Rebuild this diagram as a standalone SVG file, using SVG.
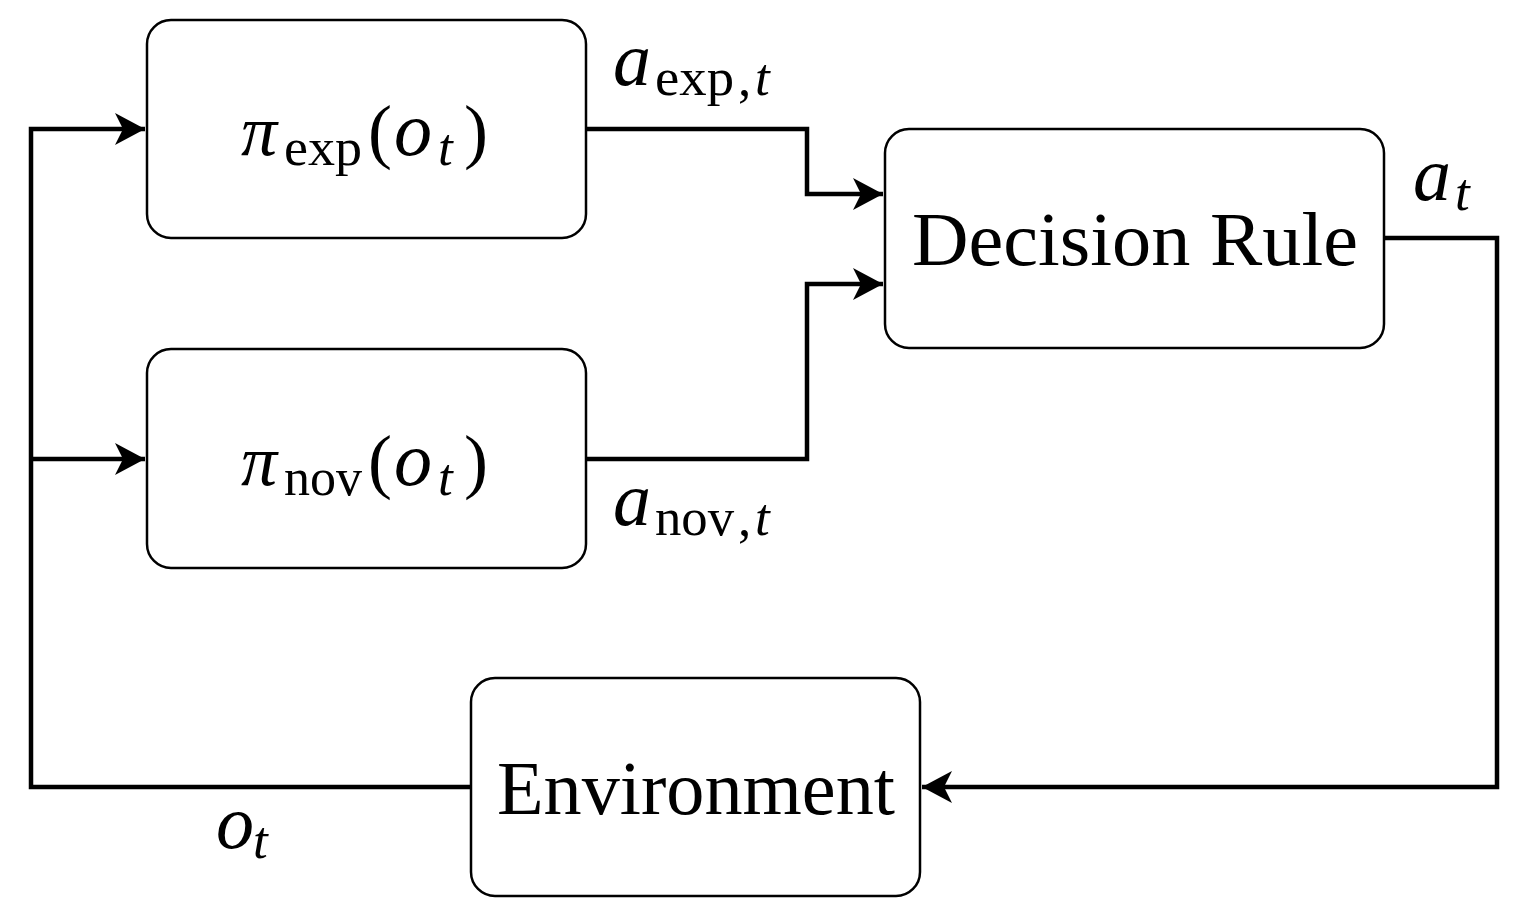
<svg xmlns="http://www.w3.org/2000/svg" width="1516" height="922" viewBox="0 0 1516 922">
<style>
.box{fill:#fff;stroke:#000;stroke-width:2.5}
.w{fill:none;stroke:#000;stroke-width:4.5}
.t{font-family:"Liberation Serif",serif;fill:#000}
.i{font-style:italic}
</style>
<defs>
<marker id="ah" viewBox="0 0 30 32" refX="30" refY="16" markerWidth="30" markerHeight="32" markerUnits="userSpaceOnUse" orient="auto">
<path d="M0,0 L30,16 L0,32 L8,16 Z" fill="#000"/>
</marker>
</defs>
<rect width="1516" height="922" fill="#fff"/>
<g id="connectors">
<polyline class="w" points="471,787 31,787 31,129 145,129" marker-end="url(#ah)"/>
<polyline class="w" points="31,459 145,459" marker-end="url(#ah)"/>
<polyline class="w" points="586,129 807,129 807,194 883,194" marker-end="url(#ah)"/>
<polyline class="w" points="586,459 807,459 807,284 883,284" marker-end="url(#ah)"/>
<polyline class="w" points="1384,238 1497,238 1497,787 922,787" marker-end="url(#ah)"/>
</g>
<g id="pi_exp">
<rect class="box" x="147" y="20" width="439" height="218" rx="24"/>
<text class="t" y="155"><tspan class="i" x="241" font-size="72">π</tspan><tspan x="284" y="165" font-size="53" textLength="78" lengthAdjust="spacingAndGlyphs">exp</tspan><tspan x="368" y="155" font-size="72">(</tspan><tspan class="i" x="394" font-size="76">o</tspan><tspan class="i" x="438" y="165" font-size="53">t</tspan><tspan x="464" y="155" font-size="72">)</tspan></text>
</g>
<g id="pi_nov">
<rect class="box" x="147" y="349" width="439" height="219" rx="24"/>
<text class="t" y="485"><tspan class="i" x="241" font-size="72">π</tspan><tspan x="284" y="495" font-size="53" textLength="78" lengthAdjust="spacingAndGlyphs">nov</tspan><tspan x="368" y="485" font-size="72">(</tspan><tspan class="i" x="394" font-size="76">o</tspan><tspan class="i" x="438" y="495" font-size="53">t</tspan><tspan x="464" y="485" font-size="72">)</tspan></text>
</g>
<g id="decision_rule">
<rect class="box" x="885" y="129" width="499" height="219" rx="24"/>
<text class="t" x="912" y="265" font-size="76" textLength="446" lengthAdjust="spacingAndGlyphs">Decision Rule</text>
</g>
<g id="environment">
<rect class="box" x="471" y="678" width="449" height="218" rx="24"/>
<text class="t" x="497" y="814" font-size="76" textLength="398" lengthAdjust="spacingAndGlyphs">Environment</text>
</g>
<g id="labels">
<text class="t" y="85"><tspan class="i" x="613" font-size="76">a</tspan><tspan x="655" y="95" font-size="53" textLength="79" lengthAdjust="spacingAndGlyphs">exp</tspan><tspan x="738" font-size="53">,</tspan><tspan class="i" x="755" font-size="53">t</tspan></text>
<text class="t" y="525"><tspan class="i" x="613" font-size="76">a</tspan><tspan x="655" y="535" font-size="53" textLength="79" lengthAdjust="spacingAndGlyphs">nov</tspan><tspan x="738" font-size="53">,</tspan><tspan class="i" x="755" font-size="53">t</tspan></text>
<text class="t" y="200"><tspan class="i" x="1413" font-size="76">a</tspan><tspan class="i" x="1455" y="210" font-size="53">t</tspan></text>
<text class="t" y="848"><tspan class="i" x="216" font-size="76">o</tspan><tspan class="i" x="253" y="858" font-size="53">t</tspan></text>
</g>
</svg>
